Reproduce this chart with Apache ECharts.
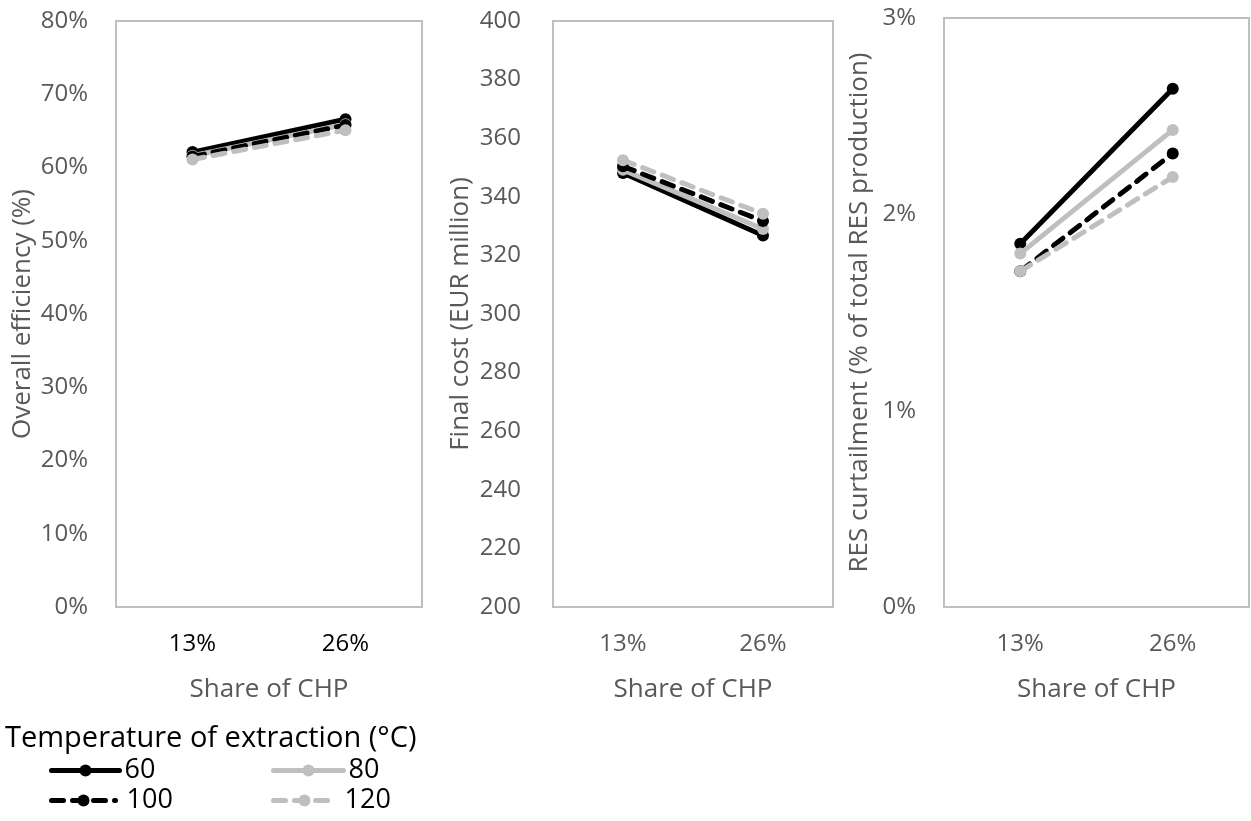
<!DOCTYPE html>
<html>
<head>
<meta charset="utf-8">
<script src="https://cdn.jsdelivr.net/npm/echarts@6/dist/echarts.min.js"></script>
<style>
  html, body { margin: 0; padding: 0; background: #fff; }
  #chart { width: 1251px; height: 821px; }
</style>
</head>
<body>
<div id="chart"></div>
<script>
// Share of CHP categories (shared x axis of all three panels)
const shares = ['13%', '26%'];

// Extraction temperatures (°C)
const temps = ['60', '80', '100', '120'];

// Overall efficiency (%) per temperature
const eff60 = [62.1, 66.6];
const eff80 = [61.6, 65.9];
const eff100 = [61.5, 65.8];
const eff120 = [61.1, 65.1];

// Final cost (EUR million) per temperature
const cost60 = [348.1, 326.8];
const cost80 = [349.2, 329.0];
const cost100 = [350.4, 331.7];
const cost120 = [352.5, 334.2];

// RES curtailment (% of total RES production) per temperature
const curt60 = [1.85, 2.64];
const curt80 = [1.80, 2.43];
const curt100 = [1.71, 2.31];
const curt120 = [1.71, 2.19];

const FONT = '"Open Sans", "Noto Sans", sans-serif';
const GRAY_TXT = '#595959';
const BLACK = '#000000';
const LIGHT = '#bfbfbf';
const DASH = [12, 9];
const TICK_SIZE = 24;
const NAME_SIZE = 26;

const styles = {
  '60':  { color: BLACK, type: 'solid' },
  '80':  { color: LIGHT, type: 'solid' },
  '100': { color: BLACK, type: DASH },
  '120': { color: LIGHT, type: DASH }
};

const panels = [
  { left: 116, top: 21, width: 306, height: 586, min: 0, max: 80, interval: 10,
    fmt: '{value}%', title: 'Overall efficiency (%)', nameGap: 80, labelGap: 28, xColor: BLACK,
    data: [eff60, eff80, eff100, eff120] },
  { left: 553, top: 21, width: 280, height: 586, min: 200, max: 400, interval: 20,
    fmt: '{value}', title: 'Final cost (EUR million)', nameGap: 79, labelGap: 32, xColor: GRAY_TXT,
    data: [cost60, cost80, cost100, cost120] },
  { left: 944, top: 18, width: 305, height: 589, min: 0, max: 3, interval: 1,
    fmt: '{value}%', title: 'RES curtailment (% of total RES production)', nameGap: 71, labelGap: 28, xColor: GRAY_TXT,
    data: [curt60, curt80, curt100, curt120] }
];

const grid = [], xAxis = [], yAxis = [], series = [];
panels.forEach((p, i) => {
  grid.push({
    left: p.left, top: p.top, width: p.width, height: p.height,
    show: true, borderColor: LIGHT, borderWidth: 2, backgroundColor: '#fff'
  });
  xAxis.push({
    type: 'category', gridIndex: i, data: shares, boundaryGap: true,
    axisLine: { show: false }, axisTick: { show: false }, splitLine: { show: false },
    axisLabel: { margin: 25, fontSize: TICK_SIZE, fontFamily: FONT, color: p.xColor },
    name: 'Share of CHP', nameLocation: 'middle', nameGap: 70,
    nameTextStyle: { fontSize: NAME_SIZE, fontFamily: FONT, color: GRAY_TXT }
  });
  yAxis.push({
    type: 'value', gridIndex: i, min: p.min, max: p.max, interval: p.interval,
    axisLine: { show: false }, axisTick: { show: false }, splitLine: { show: false },
    axisLabel: { margin: p.labelGap, fontSize: TICK_SIZE, fontFamily: FONT, color: GRAY_TXT,
      formatter: p.fmt, padding: [7, 0, 0, 0] },
    name: p.title, nameLocation: 'middle', nameGap: p.nameGap,
    nameTextStyle: { fontSize: NAME_SIZE, fontFamily: FONT, color: GRAY_TXT }
  });
  temps.forEach((t, k) => {
    const s = styles[t];
    series.push({
      name: t, type: 'line', xAxisIndex: i, yAxisIndex: i,
      data: p.data[k],
      symbol: 'circle', symbolSize: 12, showSymbol: true,
      lineStyle: { color: s.color, width: 5, type: s.type, cap: 'round' },
      itemStyle: { color: s.color },
      emphasis: { disabled: true },
      animation: false, z: 2 + k
    });
  });
});

function legendAt(name, left, top, w, textPad) {
  const s = styles[name];
  return {
    data: [name], left: left, top: top, orient: 'horizontal',
    itemWidth: w, itemHeight: 15, itemGap: 0,
    lineStyle: { width: 5, type: s.type, color: s.color, cap: 'round' },
    itemStyle: { color: s.color },
    textStyle: { fontSize: 27, fontFamily: FONT, color: BLACK, padding: [0, 0, 0, textPad] },
    selectedMode: false
  };
}

const chart = echarts.init(document.getElementById('chart'), null, { renderer: 'canvas' });
chart.setOption({
  animation: false,
  backgroundColor: '#ffffff',
  title: {
    text: 'Temperature of extraction (°C)', left: 0, top: 719,
    textStyle: { fontSize: 29, fontWeight: 'normal', fontFamily: FONT, color: BLACK }
  },
  legend: [
    legendAt('60', 44, 752, 68, 0),
    legendAt('80', 266, 752, 70, 0),
    legendAt('100', 44, 782, 64, 6),
    legendAt('120', 266, 782, 62, 4)
  ],
  grid: grid,
  xAxis: xAxis,
  yAxis: yAxis,
  series: series
});
</script>
</body>
</html>
